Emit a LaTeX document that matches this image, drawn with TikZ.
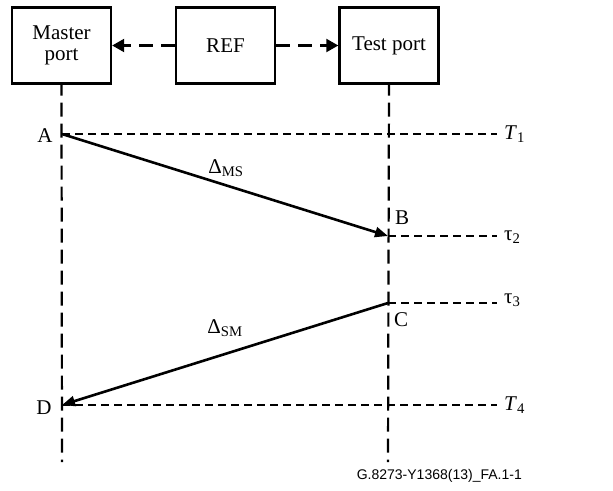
\documentclass[tikz,border=0pt]{standalone}
\usepackage{fontspec}
\setmainfont{Liberation Serif}
\newfontfamily\capfont{Liberation Sans}
\usetikzlibrary{arrows.meta}
\begin{document}
\begin{tikzpicture}[x=1pt,y=-1pt,
    portbox/.style={draw,line width=2.4pt,minimum width=99pt,minimum height=76pt,
      align=center,font=\fontsize{21}{21}\selectfont,inner sep=0pt},
    life/.style={line width=2.2pt,dash pattern=on 14pt off 7pt,dash phase=3pt},
    stamp/.style={line width=2.2pt,dash pattern=on 8pt off 5pt},
    refarrow/.style={line width=2.2pt,dash pattern=on 14pt off 8pt,-{Triangle[length=12pt,width=13pt]}},
    msg/.style={line width=2.6pt,-{Triangle[length=13pt,width=10pt]}},
    lbl/.style={font=\fontsize{21}{21}\selectfont,inner sep=0pt}]
  \useasboundingbox (0,0) rectangle (613,490);
  % boxes
  \node[portbox] (master) at (61.5,45.5) {Master\\port};
  \node[portbox] (ref) at (225.5,45.5) {REF};
  \node[portbox] (test) at (389,45.5) {Test port};
  \draw[refarrow] (ref.west) -- (master.east);
  \draw[refarrow] (ref.east) -- (test.west);
  % lifelines
  \coordinate (mend) at (62,462);
  \coordinate (tend) at (388,462);
  \draw[life] (master.south) -- (mend);
  \draw[life] (test.south) -- (tend);
  % time stamps
  \coordinate (a) at (62,134);
  \coordinate (b) at (388,236);
  \coordinate (c) at (388,303);
  \coordinate (d) at (62,405);
  \coordinate (t1) at (497,134);
  \coordinate (t2) at (497,236);
  \coordinate (t3) at (497,303);
  \coordinate (t4) at (497,405);
  \draw[stamp] (a) -- (t1);
  \draw[stamp] (b) -- (t2);
  \draw[stamp] (c) -- (t3);
  \draw[stamp] (d) -- (t4);
  \draw[msg] (a) -- (b);
  \draw[msg] (c) -- (d);
  % labels
  \node[lbl] (la) at (45,136) {A};
  \node[lbl] (lb) at (402,218) {B};
  \node[lbl] (lc) at (401,320) {C};
  \node[lbl] (ld) at (44,408) {D};
  \node[lbl,anchor=west] (lt1) at (504,134) {\textit{T}\textsubscript{1}};
  \node[lbl,anchor=west] (lt2) at (504,237) {τ\textsubscript{2}};
  \node[lbl,anchor=west] (lt3) at (504,300) {τ\textsubscript{3}};
  \node[lbl,anchor=west] (lt4) at (504,405) {\textit{T}\textsubscript{4}};
  \node[lbl] (dms) at (226,168) {Δ\textsubscript{MS}};
  \node[lbl] (dsm) at (225,328) {Δ\textsubscript{SM}};
  \node[font=\capfont\fontsize{14}{14}\selectfont,anchor=east,inner sep=0pt] (fig) at (522,476) {G.8273-Y1368(13)\_FA.1-1};
\end{tikzpicture}
\end{document}
